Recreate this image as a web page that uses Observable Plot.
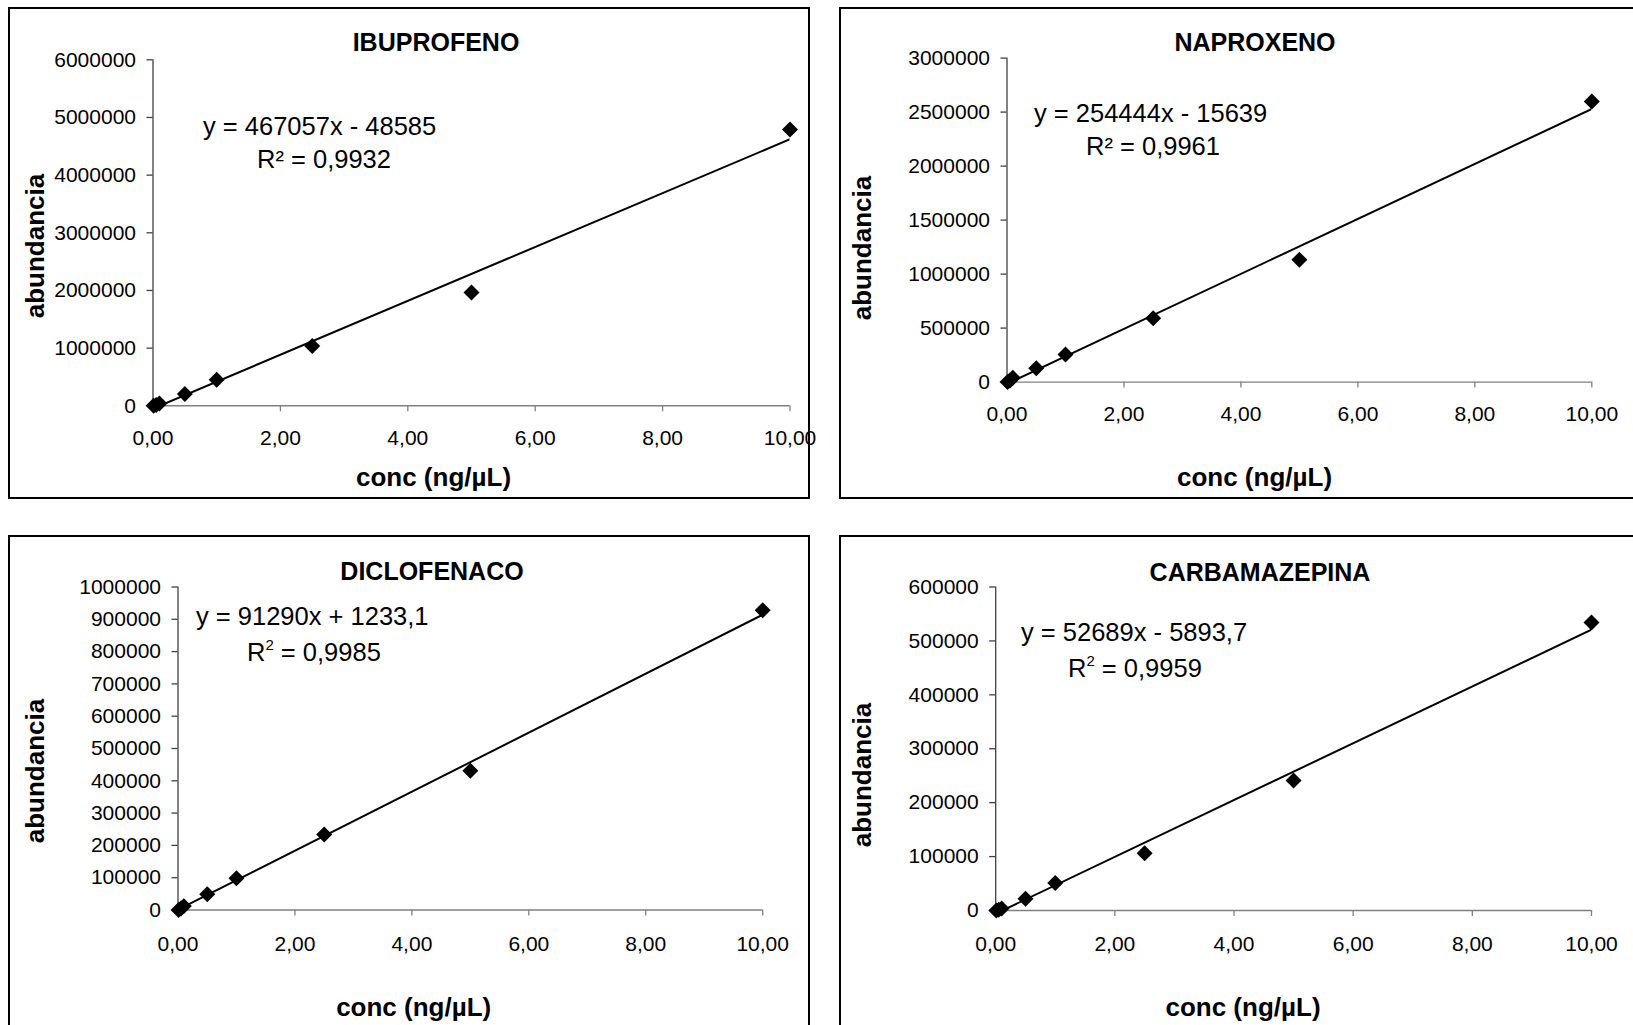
<!DOCTYPE html>
<html>
<head>
<meta charset="utf-8">
<script src="https://cdn.jsdelivr.net/npm/d3@7"></script>
<script src="https://cdn.jsdelivr.net/npm/@observablehq/plot@0.6"></script>
<style>
  html, body { margin: 0; padding: 0; background: #fff; }
  body { width: 1633px; height: 1025px; overflow: hidden; position: relative;
         font-family: "Liberation Sans", Arial, sans-serif; }
  .frame { position: absolute; border: 2.5px solid #000; box-sizing: border-box; }
  .plotbox { position: absolute; }
  .t { position: absolute; white-space: nowrap; color: #000; line-height: 1; }
  .c { transform: translate(-50%, -50%); }
  .l { transform: translateY(-50%); }
  .rot { transform: translate(-50%, -50%) rotate(-90deg); }
  .title { font-weight: bold; font-size: 25px; }
  .axt { font-weight: bold; font-size: 26px; }
  .eq { font-size: 25.5px; }
  .sup { font-size: 15px; position: relative; top: -11px; }
</style>
</head>
<body>
<script>
// ---------- data ----------
const drugs = ["IBUPROFENO", "NAPROXENO", "DICLOFENACO", "CARBAMAZEPINA"];
const conc = [0.01, 0.05, 0.1, 0.5, 1, 2.5, 5, 10];
const abundIbuprofeno   = [0, 15000, 40000, 205000, 450000, 1035000, 1965000, 4790000];
const abundNaproxeno    = [0, 15000, 40000, 129000, 256000, 592000, 1133000, 2599000];
const abundDiclofenaco  = [0, 5000, 12000, 49000, 98000, 234000, 431000, 928000];
const abundCarbamazepina = [0, 1500, 3500, 22000, 51000, 106000, 241000, 534000];
const slopes     = [467057, 254444, 91290, 52689];
const intercepts = [-48585, -15639, 1233.1, -5893.7];
const eqLabels = ["y = 467057x - 48585", "y = 254444x - 15639", "y = 91290x + 1233,1", "y = 52689x - 5893,7"];
const r2Values = ["0,9932", "0,9961", "0,9985", "0,9959"];
const r2Superscript = [false, false, true, true];
const xTicks = [0, 2, 4, 6, 8, 10];
const yTicksIbuprofeno = [0, 1000000, 2000000, 3000000, 4000000, 5000000, 6000000];
const yTicksNaproxeno = [0, 500000, 1000000, 1500000, 2000000, 2500000, 3000000];
const yTicksDiclofenaco = [0, 100000, 200000, 300000, 400000, 500000, 600000, 700000, 800000, 900000, 1000000];
const yTicksCarbamazepina = [0, 100000, 200000, 300000, 400000, 500000, 600000];
const xTitle = "conc (ng/µL)";
const yTitle = "abundancia";

const abundances = [abundIbuprofeno, abundNaproxeno, abundDiclofenaco, abundCarbamazepina];
const yTicksAll = [yTicksIbuprofeno, yTicksNaproxeno, yTicksDiclofenaco, yTicksCarbamazepina];

// ---------- layout (pixels) ----------
const layout = [
  {left: 0,   top: 0,   width: 820, height: 520, ml: 152.5, mr: 30.5, mt: 59.3, mb: 114.7, px: 18,
   frame: [8, 7, 802, 492], title: [436, 41.7], eq: [203, 127], r2: [257, 160], xt: [433.5, 477], yt: [35, 246]},
  {left: 820, top: 0,   width: 813, height: 520, ml: 186.5, mr: 41.7, mt: 57.6, mb: 138.4, px: 18,
   frame: [839, 7, 820, 492], title: [1255, 41.7], eq: [1034, 113.5], r2: [1086, 147], xt: [1254.5, 477], yt: [862, 248]},
  {left: 0,   top: 510, width: 820, height: 515, ml: 177.5, mr: 57.8, mt: 76.5, mb: 115.5, px: 20,
   frame: [8, 535, 802, 520], title: [432, 571], eq: [196, 617], r2: [247, 653], xt: [413.7, 1006.5], yt: [35, 771]},
  {left: 820, top: 510, width: 813, height: 515, ml: 175.2, mr: 42, mt: 76.5, mb: 115, px: 20,
   frame: [839, 535, 820, 520], title: [1260, 571.5], eq: [1021, 633], r2: [1068, 669], xt: [1243, 1006.5], yt: [862, 775]}
];

const FONT = '"Liberation Sans", Arial, sans-serif';
const fmtX = d => d.toFixed(2).replace(".", ",");

function addText(html, x, y, cls) {
  const d = document.createElement("div");
  d.className = "t " + cls;
  d.style.left = x + "px";
  d.style.top = y + "px";
  d.innerHTML = html;
  document.body.appendChild(d);
}

drugs.forEach((name, i) => {
  const L = layout[i];
  const yTicks = yTicksAll[i];
  const points = conc.map((c, j) => ({x: c, y: abundances[i][j]}));
  const trend = d3.extent(conc).map(c => ({x: c, y: slopes[i] * c + intercepts[i]}));

  // frame
  const f = document.createElement("div");
  f.className = "frame";
  f.style.left = L.frame[0] + "px";
  f.style.top = L.frame[1] + "px";
  f.style.width = L.frame[2] + "px";
  f.style.height = L.frame[3] + "px";
  document.body.appendChild(f);

  const chart = Plot.plot({
    width: L.width,
    height: L.height,
    marginLeft: L.ml,
    marginRight: L.mr,
    marginTop: L.mt,
    marginBottom: L.mb,
    style: {background: "transparent", overflow: "visible", fontFamily: FONT, fontSize: "21px", color: "#000", maxWidth: "none"},
    x: {domain: [0, xTicks[xTicks.length - 1]]},
    y: {domain: [0, yTicks[yTicks.length - 1]]},
    marks: [
      Plot.ruleY([0], {stroke: "#808080", strokeWidth: 1.4}),
      Plot.ruleX([0], {stroke: "#404040", strokeWidth: 1.3}),
      Plot.axisX(xTicks, {tickFormat: fmtX, tickSize: 6, tickPadding: L.px, stroke: "#808080", strokeWidth: 1.3, fill: "#000", label: null}),
      Plot.axisY(yTicks, {tickFormat: d => String(d), tickSize: 6, tickPadding: 11, stroke: "#404040", strokeWidth: 1.3, fill: "#000", label: null}),
      Plot.line(trend, {x: "x", y: "y", stroke: "#000", strokeWidth: 2, clip: true}),
      Plot.dot(points, {x: "x", y: "y", symbol: "diamond2", r: 7.2, fill: "#000", stroke: "none"})
    ]
  });
  const box = document.createElement("div");
  box.className = "plotbox";
  box.style.left = L.left + "px";
  box.style.top = L.top + "px";
  box.appendChild(chart);
  document.body.appendChild(box);

  // texts
  addText(name, L.title[0], L.title[1], "c title");
  addText(eqLabels[i], L.eq[0], L.eq[1], "l eq");
  const r2 = r2Superscript[i] ? 'R<span class="sup">2</span> = ' + r2Values[i] : "R² = " + r2Values[i];
  addText(r2, L.r2[0], L.r2[1], "l eq");
  addText(xTitle, L.xt[0], L.xt[1], "c axt");
  addText(yTitle, L.yt[0], L.yt[1], "rot axt");
});
</script>
</body>
</html>
